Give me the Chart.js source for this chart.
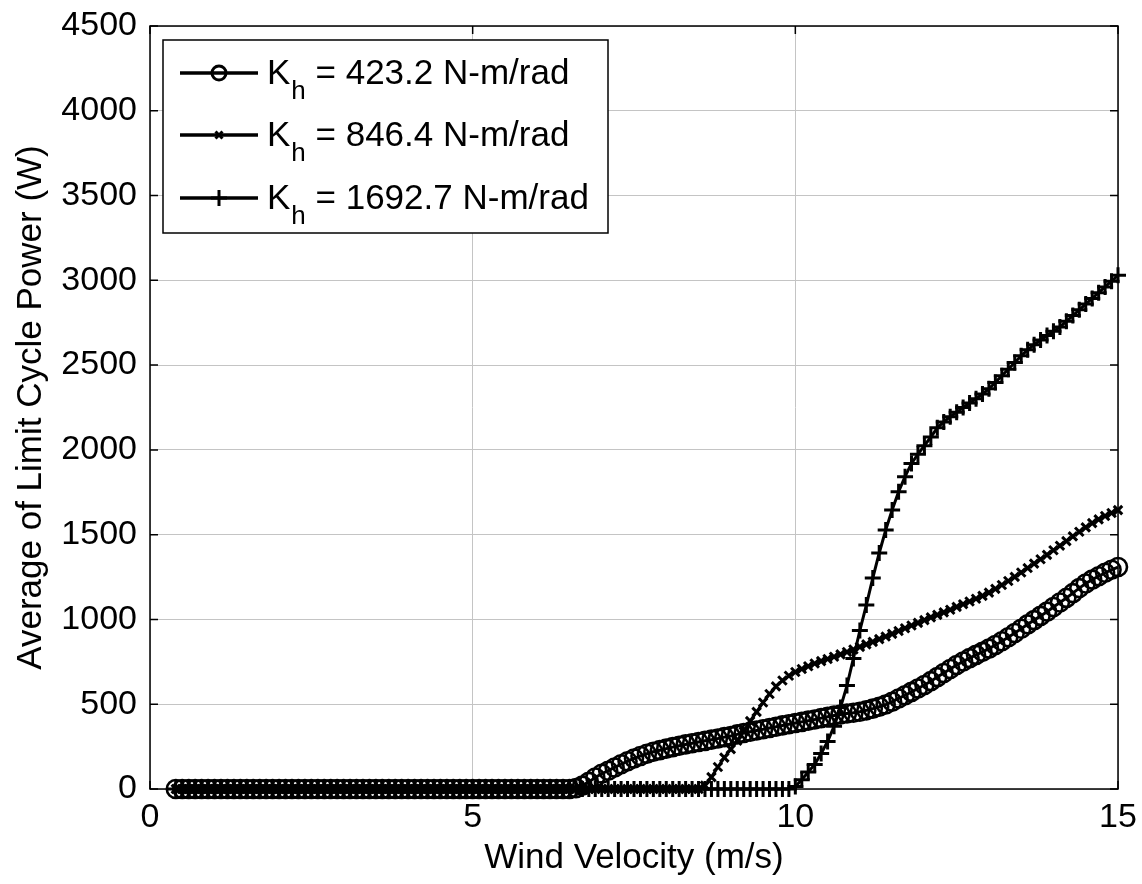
<!DOCTYPE html>
<html>
<head>
<meta charset="utf-8">
<title>Average of Limit Cycle Power</title>
<script src="https://cdn.jsdelivr.net/npm/chart.js"></script>
<style>
  body { margin: 0; background: #fff; }
  #wrap { width: 1142px; height: 884px; }
</style>
</head>
<body>
<div id="wrap"><canvas id="powerChart" width="1142" height="884"></canvas></div>
<script>
// wind velocity (m/s), one sample every 0.1 m/s
const windSpeed = [
  0.4, 0.5, 0.6, 0.7, 0.8, 0.9,
  1.0, 1.1, 1.2, 1.3, 1.4, 1.5, 1.6, 1.7, 1.8, 1.9,
  2.0, 2.1, 2.2, 2.3, 2.4, 2.5, 2.6, 2.7, 2.8, 2.9,
  3.0, 3.1, 3.2, 3.3, 3.4, 3.5, 3.6, 3.7, 3.8, 3.9,
  4.0, 4.1, 4.2, 4.3, 4.4, 4.5, 4.6, 4.7, 4.8, 4.9,
  5.0, 5.1, 5.2, 5.3, 5.4, 5.5, 5.6, 5.7, 5.8, 5.9,
  6.0, 6.1, 6.2, 6.3, 6.4, 6.5, 6.6, 6.7, 6.8, 6.9,
  7.0, 7.1, 7.2, 7.3, 7.4, 7.5, 7.6, 7.7, 7.8, 7.9,
  8.0, 8.1, 8.2, 8.3, 8.4, 8.5, 8.6, 8.7, 8.8, 8.9,
  9.0, 9.1, 9.2, 9.3, 9.4, 9.5, 9.6, 9.7, 9.8, 9.9,
  10.0, 10.1, 10.2, 10.3, 10.4, 10.5, 10.6, 10.7, 10.8, 10.9,
  11.0, 11.1, 11.2, 11.3, 11.4, 11.5, 11.6, 11.7, 11.8, 11.9,
  12.0, 12.1, 12.2, 12.3, 12.4, 12.5, 12.6, 12.7, 12.8, 12.9,
  13.0, 13.1, 13.2, 13.3, 13.4, 13.5, 13.6, 13.7, 13.8, 13.9,
  14.0, 14.1, 14.2, 14.3, 14.4, 14.5, 14.6, 14.7, 14.8, 14.9,
  15.0
];

// K_h = 423.2 N-m/rad
const power423 = [
  0, 0, 0, 0, 0, 0,
  0, 0, 0, 0, 0, 0, 0, 0, 0, 0,
  0, 0, 0, 0, 0, 0, 0, 0, 0, 0,
  0, 0, 0, 0, 0, 0, 0, 0, 0, 0,
  0, 0, 0, 0, 0, 0, 0, 0, 0, 0,
  0, 0, 0, 0, 0, 0, 0, 0, 0, 0,
  0, 0, 0, 0, 0, 0, 5, 20, 42, 68,
  90, 108, 127, 146, 164, 180, 195, 208, 220, 229,
  238, 247, 255, 263, 270, 277, 284, 291, 298, 306,
  313, 322, 330, 338, 345, 352, 360, 367, 375, 382,
  389, 396, 403, 410, 418, 426, 433, 439, 445, 450,
  456, 464, 474, 485, 498, 515, 534, 553, 573, 593,
  613, 636, 660, 684, 708, 731, 752, 772, 791, 809,
  828, 849, 871, 895, 920, 945, 971, 996, 1021, 1046,
  1073, 1100, 1127, 1155, 1185, 1212, 1235, 1255, 1275, 1293,
  1309
];

// K_h = 846.4 N-m/rad
const power846 = [
  0, 0, 0, 0, 0, 0,
  0, 0, 0, 0, 0, 0, 0, 0, 0, 0,
  0, 0, 0, 0, 0, 0, 0, 0, 0, 0,
  0, 0, 0, 0, 0, 0, 0, 0, 0, 0,
  0, 0, 0, 0, 0, 0, 0, 0, 0, 0,
  0, 0, 0, 0, 0, 0, 0, 0, 0, 0,
  0, 0, 0, 0, 0, 0, 0, 0, 0, 0,
  0, 0, 0, 0, 0, 0, 0, 0, 0, 0,
  0, 0, 0, 0, 0, 0, 20, 70, 130, 185,
  235, 285, 340, 400, 455, 510, 560, 605, 640, 668,
  690, 708, 724, 740, 754, 767, 780, 794, 808, 823,
  838, 853, 868, 884, 899, 915, 932, 948, 964, 980,
  996, 1012, 1027, 1042, 1057, 1074, 1090, 1106, 1122, 1139,
  1158, 1180, 1203, 1227, 1251, 1277, 1303, 1329, 1355, 1381,
  1408, 1435, 1462, 1490, 1517, 1543, 1568, 1590, 1610, 1628,
  1645
];

// K_h = 1692.7 N-m/rad
const power1693 = [
  0, 0, 0, 0, 0, 0,
  0, 0, 0, 0, 0, 0, 0, 0, 0, 0,
  0, 0, 0, 0, 0, 0, 0, 0, 0, 0,
  0, 0, 0, 0, 0, 0, 0, 0, 0, 0,
  0, 0, 0, 0, 0, 0, 0, 0, 0, 0,
  0, 0, 0, 0, 0, 0, 0, 0, 0, 0,
  0, 0, 0, 0, 0, 0, 0, 0, 0, 0,
  0, 0, 0, 0, 0, 0, 0, 0, 0, 0,
  0, 0, 0, 0, 0, 0, 0, 0, 0, 0,
  0, 0, 0, 0, 0, 0, 0, 0, 0, 0,
  15, 55, 100, 145, 210, 280, 370, 480, 610, 770,
  935, 1085, 1244, 1392, 1527, 1645, 1753, 1842, 1920, 1975,
  2025, 2076, 2130, 2165, 2195, 2222, 2250, 2276, 2302, 2330,
  2360, 2398, 2437, 2476, 2515, 2555, 2590, 2620, 2648, 2675,
  2700, 2725, 2758, 2792, 2826, 2860, 2893, 2927, 2961, 2995,
  3030
];

const xTicks = [0, 5, 10, 15];
const yTicks = [0, 500, 1000, 1500, 2000, 2500, 3000, 3500, 4000, 4500];
const legendValues = ["423.2", "846.4", "1692.7"];
const markerStyles = ["circle", "crossRot", "cross"];

const FONT = "'Liberation Sans', Arial, Helvetica, sans-serif";

function toPoints(ys) {
  return windSpeed.map((x, i) => ({ x: x, y: ys[i] }));
}

// draw a marker shape the way the datasets do
function drawMarker(ctx, style, x, y, r) {
  ctx.beginPath();
  if (style === "circle") {
    ctx.arc(x, y, r, 0, Math.PI * 2);
  } else if (style === "cross") {
    ctx.moveTo(x - r, y); ctx.lineTo(x + r, y);
    ctx.moveTo(x, y - r); ctx.lineTo(x, y + r);
  } else {
    const d = r * 0.7;
    ctx.moveTo(x - d, y - d); ctx.lineTo(x + d, y + d);
    ctx.moveTo(x - d, y + d); ctx.lineTo(x + d, y - d);
  }
  ctx.stroke();
}

// axes box + inward ticks (MATLAB look)
const boxPlugin = {
  id: "boxPlugin",
  beforeDatasetsDraw(chart) {
    const { ctx, chartArea: a, scales } = chart;
    ctx.save();
    ctx.strokeStyle = "#000";
    ctx.lineWidth = 1.5;
    ctx.strokeRect(a.left, a.top, a.right - a.left, a.bottom - a.top);
    const len = 8;
    ctx.beginPath();
    scales.x.ticks.forEach((t) => {
      const px = scales.x.getPixelForValue(t.value);
      ctx.moveTo(px, a.bottom); ctx.lineTo(px, a.bottom - len);
      ctx.moveTo(px, a.top); ctx.lineTo(px, a.top + len);
    });
    scales.y.ticks.forEach((t) => {
      const py = scales.y.getPixelForValue(t.value);
      ctx.moveTo(a.left, py); ctx.lineTo(a.left + len, py);
      ctx.moveTo(a.right, py); ctx.lineTo(a.right - len, py);
    });
    ctx.stroke();
    ctx.restore();
  }
};

// legend with subscript h
const legendPlugin = {
  id: "legendPlugin",
  afterDraw(chart) {
    const { ctx } = chart;
    const box = { x: 163, y: 40, w: 445, h: 193 };
    ctx.save();
    ctx.fillStyle = "#fff";
    ctx.fillRect(box.x, box.y, box.w, box.h);
    ctx.strokeStyle = "#000";
    ctx.lineWidth = 1.5;
    ctx.strokeRect(box.x, box.y, box.w, box.h);

    const rowY = [73, 135, 198];
    const radii = [7, 5, 8];
    legendValues.forEach((val, i) => {
      const y = rowY[i];
      ctx.strokeStyle = "#000";
      ctx.lineWidth = 3.5;
      ctx.beginPath();
      ctx.moveTo(180, y); ctx.lineTo(258, y);
      ctx.stroke();
      ctx.lineWidth = 3;
      drawMarker(ctx, markerStyles[i], 219, y, radii[i]);

      ctx.fillStyle = "#000";
      ctx.textBaseline = "alphabetic";
      ctx.font = "35px " + FONT;
      ctx.fillText("K", 267, y + 11);
      const kw = ctx.measureText("K").width;
      ctx.font = "26px " + FONT;
      ctx.fillText("h", 267 + kw + 1, y + 26);
      const hw = ctx.measureText("h").width;
      ctx.font = "35px " + FONT;
      ctx.fillText(" = " + val + " N-m/rad", 267 + kw + 1 + hw, y + 11);
    });
    ctx.restore();
  }
};

document.addEventListener("DOMContentLoaded", () => {
  const ctx = document.getElementById("powerChart");

  const lineStyle = {
    borderColor: "#000",
    borderWidth: 3,
    tension: 0,
    fill: false,
    clip: false,
    pointBorderColor: "#000",
    pointBackgroundColor: "rgba(0,0,0,0)",
    pointHoverRadius: 0
  };

  const data = {
    datasets: [
      Object.assign({}, lineStyle, {
        label: "Kh = 423.2 N-m/rad",
        data: toPoints(power423),
        pointStyle: markerStyles[0],
        pointRadius: 9,
        pointBorderWidth: 2.6
      }),
      Object.assign({}, lineStyle, {
        label: "Kh = 846.4 N-m/rad",
        data: toPoints(power846),
        pointStyle: markerStyles[1],
        pointRadius: 6,
        pointBorderWidth: 3
      }),
      Object.assign({}, lineStyle, {
        label: "Kh = 1692.7 N-m/rad",
        data: toPoints(power1693),
        pointStyle: markerStyles[2],
        pointRadius: 8,
        pointBorderWidth: 3
      })
    ]
  };

  const config = {
    type: "line",
    data: data,
    options: {
      responsive: false,
      animation: false,
      events: [],
      layout: { padding: { top: 26, right: 24, bottom: 0, left: 0 } },
      plugins: {
        legend: { display: false },
        tooltip: { enabled: false }
      },
      scales: {
        x: {
          type: "linear",
          min: 0,
          max: 15,
          afterBuildTicks: (s) => { s.ticks = xTicks.map((v) => ({ value: v })); },
          afterFit: (s) => {
            s.height = 95;
            s.paddingLeft = 0;
            s.paddingRight = 0;
          },
          grid: { color: "#c4c4c4", lineWidth: 1, drawTicks: false },
          border: { display: false },
          ticks: {
            padding: 8,
            color: "#000",
            font: { family: FONT, size: 34 },
            callback: (v) => String(v)
          },
          title: {
            display: true,
            text: "Wind Velocity (m/s)",
            color: "#000",
            font: { family: FONT, size: 35 },
            padding: { top: 0, bottom: 5 }
          }
        },
        y: {
          min: 0,
          max: 4500,
          afterBuildTicks: (s) => { s.ticks = yTicks.map((v) => ({ value: v })); },
          afterFit: (s) => {
            s.width = 150;
            s.paddingTop = 0;
            s.paddingBottom = 0;
          },
          grid: { color: "#c4c4c4", lineWidth: 1, drawTicks: false },
          border: { display: false },
          ticks: {
            padding: 13,
            color: "#000",
            font: { family: FONT, size: 34 },
            callback: (v) => String(v)
          },
          title: {
            display: true,
            text: "Average of Limit Cycle Power (W)",
            color: "#000",
            font: { family: FONT, size: 35 },
            padding: { top: 10, bottom: 0 }
          }
        }
      }
    },
    plugins: [boxPlugin, legendPlugin]
  };

  new Chart(ctx, config);
});
</script>
</body>
</html>
